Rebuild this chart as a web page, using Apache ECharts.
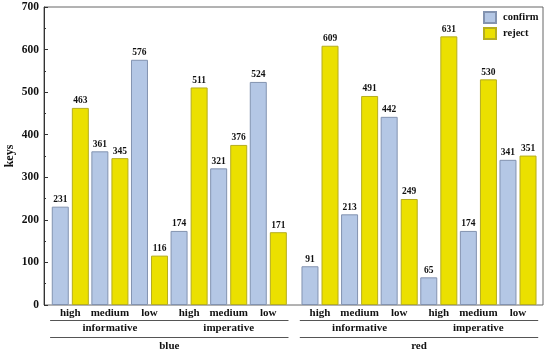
<!DOCTYPE html>
<html>
<head>
<meta charset="utf-8">
<script src="https://cdn.jsdelivr.net/npm/echarts@6/dist/echarts.min.js"></script>
<style>html,body{margin:0;padding:0;background:#fff;}#c{width:550px;height:354px;}</style>
</head>
<body>
<div id="c"></div>
<script>
const levels = ['high', 'medium', 'low', 'high', 'medium', 'low'];
const types = ['informative', 'imperative'];
const groups = ['blue', 'red'];
const blueConfirm = [231, 361, 576, 174, 321, 524];
const blueReject = [463, 345, 116, 511, 376, 171];
const redConfirm = [91, 213, 442, 65, 174, 341];
const redReject = [609, 491, 249, 631, 530, 351];
const yMin = 0, yMax = 700, yStep = 100;

const FONT = '"Liberation Serif","Times New Roman",serif';
const confirmStyle = { color: '#b4c7e5', borderColor: '#8393b0', borderWidth: 1 };
const rejectStyle = { color: '#ebe000', borderColor: '#b5ad20', borderWidth: 1 };
const lbl = { show: true, position: 'top', distance: 2, fontFamily: FONT, fontWeight: 'bold', fontSize: 9.5, color: '#111' };

const gridTop = 7, gridBottom = 49;
function catAxis(grid, data, offset, showLine, margin) {
  return {
    type: 'category', gridIndex: grid, data: data, position: 'bottom', offset: offset,
    axisLine: { show: showLine, lineStyle: { color: '#555', width: 1 } },
    axisTick: { show: false },
    axisLabel: { margin: margin, fontFamily: FONT, fontWeight: 'bold', fontSize: 11, color: '#111', interval: 0 },
    splitLine: { show: false }
  };
}
function hiddenY(grid) {
  return { type: 'value', gridIndex: grid, min: yMin, max: yMax, interval: yStep, show: false, splitLine: { show: false } };
}
function barSeries(name, xi, data, style) {
  return { name: name, type: 'bar', xAxisIndex: xi, yAxisIndex: xi === 1 || xi === 3 ? 1 : 2,
    data: data, itemStyle: style, label: lbl, barWidth: 17, barGap: '18%', emphasis: { disabled: true } };
}

const chart = echarts.init(document.getElementById('c'), null, { renderer: 'canvas' });
chart.setOption({
  animation: false,
  backgroundColor: '#fff',
  textStyle: { fontFamily: FONT },
  legend: {
    data: ['confirm', 'reject'], orient: 'vertical', left: 483, top: 11, padding: 0,
    icon: 'rect', itemWidth: 12, itemHeight: 11, itemGap: 3,
    textStyle: { fontFamily: FONT, fontWeight: 'bold', fontSize: 10.5, color: '#111', padding: [0, 0, 0, 2] }
  },
  grid: [
    { left: 44, right: 7, top: gridTop, bottom: gridBottom, show: true, borderColor: '#666', borderWidth: 1, backgroundColor: 'transparent', outerBoundsMode: 'none', containLabel: false },
    { left: 50.5, width: 237.6, top: gridTop, bottom: gridBottom, outerBoundsMode: 'none', containLabel: false },
    { left: 300.2, width: 237.6, top: gridTop, bottom: gridBottom, outerBoundsMode: 'none', containLabel: false }
  ],
  xAxis: [
    { type: 'value', gridIndex: 0, show: false, min: 0, max: 1 },
    catAxis(1, levels, 0, false, 3),
    catAxis(2, levels, 0, false, 3),
    catAxis(1, types, 15, true, 3),
    catAxis(2, types, 15, true, 3),
    catAxis(1, [groups[0]], 32, true, 4),
    catAxis(2, [groups[1]], 32, true, 4)
  ],
  yAxis: [
    {
      type: 'value', gridIndex: 0, min: yMin, max: yMax, interval: yStep,
      name: 'keys', nameLocation: 'middle', nameGap: 28, nameRotate: 90, nameMoveOverlap: false,
      nameTextStyle: { fontFamily: FONT, fontWeight: 'bold', fontSize: 12, color: '#111' },
      axisLine: { show: true, lineStyle: { color: '#333', width: 1 } },
      axisTick: { show: true, inside: true, length: 4, lineStyle: { color: '#333' } },
      minorTick: { show: true, splitNumber: 2, length: 2, lineStyle: { color: '#333' } },
      axisLabel: { margin: 5, fontFamily: FONT, fontWeight: 'bold', fontSize: 11.5, color: '#111' },
      splitLine: { show: false }
    },
    hiddenY(1),
    hiddenY(2)
  ],
  series: [
    barSeries('confirm', 1, blueConfirm, confirmStyle),
    barSeries('reject', 1, blueReject, rejectStyle),
    barSeries('confirm', 2, redConfirm, confirmStyle),
    barSeries('reject', 2, redReject, rejectStyle)
  ]
});
</script>
</body>
</html>
